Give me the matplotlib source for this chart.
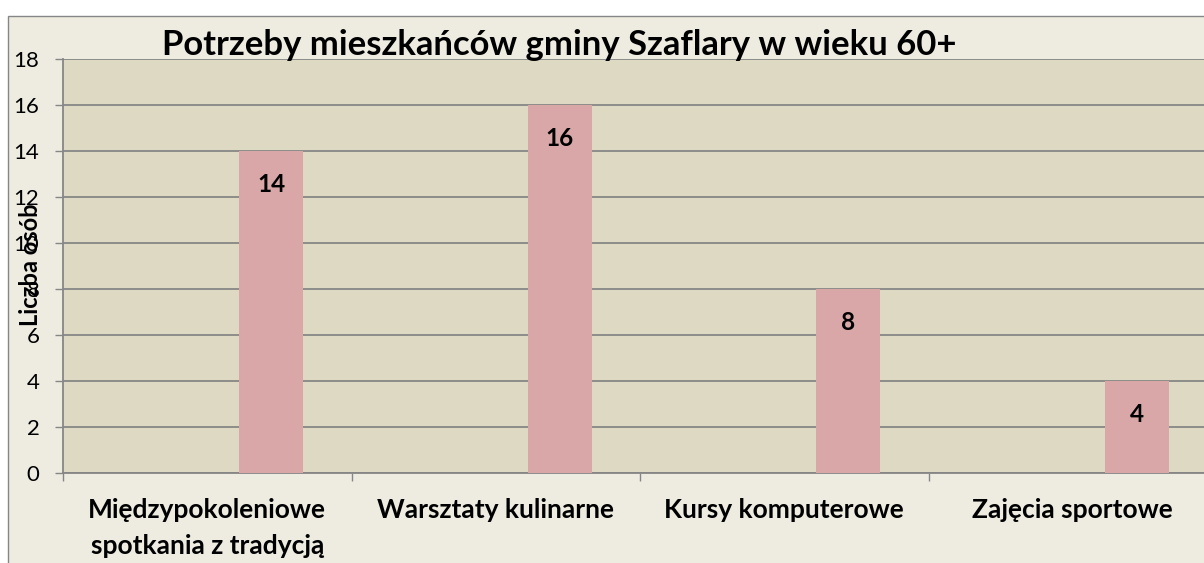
import matplotlib
matplotlib.use("Agg")
import matplotlib.pyplot as plt
from matplotlib.patches import Rectangle
import numpy as np

plt.rcParams['font.family'] = ['Lato', 'DejaVu Sans']

categories = ["Międzypokoleniowe\nspotkania z tradycją", "Warsztaty kulinarne",
              "Kursy komputerowe", "Zajęcia sportowe"]
values = [14, 16, 8, 4]
title = "Potrzeby mieszkańców gminy Szaflary w wieku 60+"
ylabel = "Liczba osób"
yticks = [0, 2, 4, 6, 8, 10, 12, 14, 16, 18]

W, H = 1204, 563
fig = plt.figure(figsize=(W / 100, H / 100), dpi=100)
fig.patch.set_facecolor('white')

grey = '#868686'
# chart area background
bg = Rectangle((8 / W, -0.1), 1.2, (H - 16) / H + 0.1, transform=fig.transFigure,
               facecolor='#EEECE1', edgecolor=grey, linewidth=1.0, zorder=-10)
fig.patches.append(bg)

ax = fig.add_axes([63 / W, (H - 473) / H, 1154 / W, 414 / H])
ax.set_facecolor('#DDD9C3')

x = np.arange(len(categories))
bw = 0.222
bars = ax.bar(x + bw, values, width=bw, color='#DAA7A8', zorder=3)
for b, v in zip(bars, values):
    ax.annotate(str(v), (b.get_x() + b.get_width() / 2, v), xytext=(0, -33),
                textcoords='offset pixels', ha='center', va='center',
                fontsize=17.5, fontweight='bold', color='black', zorder=4)

ax.set_xlim(-0.5, len(categories) - 0.5)
ax.set_ylim(0, 18)
ax.set_yticks(yticks)
ax.yaxis.grid(True, color=grey, linewidth=1.3, zorder=1)
ax.set_axisbelow(True)
ax.tick_params(axis='y', direction='out', length=6, width=1.0, color=grey,
               labelsize=16, pad=11, labelcolor='black')

ax.set_xticks(np.arange(-0.5, len(categories) - 0.5 + 1e-9, 1.0))
ax.set_xticklabels([])
ax.tick_params(axis='x', which='major', direction='out', length=6, width=1.0, color=grey)
ax.set_xticks(x, minor=True)
ax.set_xticklabels(categories, minor=True, fontsize=19, fontweight='bold', linespacing=1.6)
ax.tick_params(axis='x', which='minor', length=0, pad=18)

for s in ['top', 'right']:
    ax.spines[s].set_visible(False)
for s in ['left', 'bottom']:
    ax.spines[s].set_color(grey)
    ax.spines[s].set_linewidth(1.3)

fig.text(31 / W, 1 - 265 / H, ylabel, rotation=90, ha='center', va='center',
         fontsize=17, fontweight='bold')
fig.text(559 / W, 1 - 45 / H, title, ha='center', va='center',
         fontsize=24.9, fontweight='bold')

fig.savefig('out.png', dpi=100, facecolor=fig.get_facecolor())
